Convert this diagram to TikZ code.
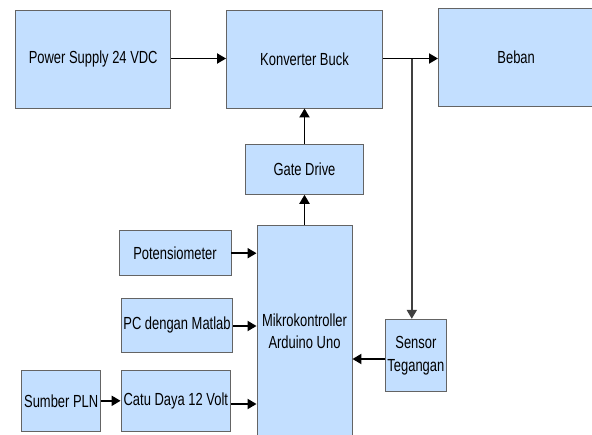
\documentclass[tikz,border=0pt]{standalone}
\usepackage{fontspec}
\newfontfamily\diafont[FakeStretch=0.74]{Liberation Sans}
\usetikzlibrary{arrows.meta}
\definecolor{boxfill}{RGB}{195,223,255}
\definecolor{boxline}{RGB}{100,100,100}
\tikzset{
  blk/.style={draw=boxline, line width=0.9pt, fill=boxfill, inner sep=0pt,
    font=\diafont\fontsize{17.5}{22.5}\selectfont, align=center},
  conn/.style={line width=1.9pt, -{Triangle[length=9pt,width=10pt]}},
}
\begin{document}
\begin{tikzpicture}[x=1pt,y=-1pt]
\useasboundingbox (0,0) rectangle (592,434);
\node[blk, minimum width=155pt, minimum height=98pt] (ps) at (93.2,59) {Power Supply 24 VDC};
\node[blk, minimum width=156pt, minimum height=98pt] (kb) at (304.5,59) {Konverter Buck};
\node[blk, minimum width=162pt, minimum height=98pt, anchor=north west,
      align=left, text width=44pt, inner xsep=59pt] (beban) at (438,8) {Beban};
\node[blk, minimum width=117.7pt, minimum height=49.6pt] (gd) at (304.5,169.5) {Gate Drive};
\node[blk, minimum width=95pt, minimum height=212pt] (mk) at (304.5,331.3) {Mikrokontroller\\Arduino Uno};
\node[blk, minimum width=112pt, minimum height=45pt] (pot) at (175,253.2) {Potensiometer};
\node[blk, minimum width=111.8pt, minimum height=53.7pt] (pc) at (177,325.2) {PC dengan Matlab};
\node[blk, minimum width=79pt, minimum height=61.7pt] (pln) at (61.2,400.8) {Sumber PLN};
\node[blk, minimum width=109.5pt, minimum height=61.7pt] (catu) at (175.8,400.8) {Catu Daya 12 Volt};
\node[blk, minimum width=60.3pt, minimum height=72.4pt] (sens) at (415.9,355.5) {Sensor\\Tegangan};
\coordinate (br) at (411.8,58.5);
% connectors
\draw[conn] ([yshift=0.5pt]ps.east) -- ([yshift=0.5pt]kb.west);
\draw[conn] ([yshift=0.5pt]kb.east) -- ([yshift=0.5pt]kb.east -| beban.west);
\draw[conn, draw=black!75] (br) -- (br |- sens.north);
\draw[conn] (gd.north) -- (kb.south);
\draw[conn] (mk.north) -- (gd.south);
\draw[conn] (pot.east) -- (pot.east -| mk.west);
\draw[conn] ([yshift=-0.8pt]pc.east) -- ([yshift=-0.8pt]pc.east -| mk.west);
\draw[conn] (pln.east) -- (catu.west);
\draw[conn] ([yshift=-3.2pt]catu.east) -- ([yshift=-3.2pt]catu.east -| mk.west);
\draw[conn] ([yshift=-3.5pt]sens.west) -- ([yshift=-3.5pt]sens.west -| mk.east);
\end{tikzpicture}
\end{document}
